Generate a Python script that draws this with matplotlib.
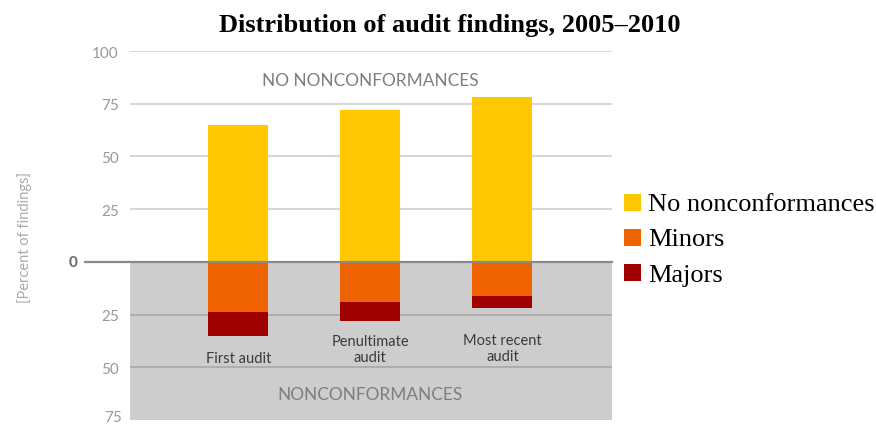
import matplotlib
matplotlib.use("Agg")
import matplotlib.pyplot as plt
from matplotlib.patches import Rectangle
from matplotlib.transforms import blended_transform_factory, offset_copy
import numpy as np

# Audit categories and the share of findings (percent) per outcome
categories = ["First audit", "Penultimate\naudit", "Most recent\naudit"]
no_nonconformances = [65, 72, 78]
minors = [24, 19, 16]
majors = [11, 9, 6]

series_names = ["No nonconformances", "Minors", "Majors"]
colors = ["#FFC800", "#EE6300", "#A00000"]

tick_values = [100, 75, 50, 25, 0, -25, -50, -75]
tick_labels = ["100", "75", "50", "25", "0", "25", "50", "75"]

sans = ["Lato", "DejaVu Sans"]
serif = ["Liberation Serif", "DejaVu Serif"]

fig = plt.figure(figsize=(8.76, 4.27), dpi=100)
ax = fig.add_axes([130 / 876, 1 - 421 / 427, (612 - 130) / 876, (421 - 52) / 427])

x = np.arange(len(categories))
ax.set_xlim(-0.82, 2.83)
ax.set_ylim(-75, 100)

# Shaded nonconformance zone below zero
ax.axhspan(-75, 0, color="#CDCDCD", zorder=0, lw=0)

# Gridlines
for v in [100, 75, 50, 25]:
    ax.axhline(v, color="#D6D6D6", lw=1.4, zorder=1)
for v in [-25, -50]:
    ax.axhline(v, color="#A8A8A8", lw=1.2, zorder=1)
trans = blended_transform_factory(ax.transAxes, ax.transData)
ax.plot([-0.093, 1.0], [0, 0], color="#8A8A8A", lw=1.6, transform=trans,
        clip_on=False, zorder=4)

width = 0.455
neg_minor = -np.array(minors)
neg_major = -np.array(majors)
ax.bar(x, no_nonconformances, width, color=colors[0], zorder=3)
ax.bar(x, neg_minor, width, color=colors[1], zorder=3)
ax.bar(x, neg_major, width, bottom=neg_minor, color=colors[2], zorder=3)

# Category labels under the bars
label_y = [-45.8, -41.3, -40.8]
for xi, lab, yy in zip(x, categories, label_y):
    ax.text(xi, yy, lab, ha="center", va="center", fontsize=10.5,
            family=sans, color="#3A3A3A", linespacing=1.25, zorder=5)

# Zone captions
ax.text(1.0, 86.3, "NO NONCONFORMANCES", ha="center", va="center",
        fontsize=12.4, family=sans, color="#7E7E7E")
ax.text(1.0, -62.7, "NONCONFORMANCES", ha="center", va="center",
        fontsize=12.4, family=sans, color="#7E7E7E")

# Axis ticks (zero and the lowest value are drawn separately)
ax.set_xticks([])
ax.set_yticks(tick_values)
ax.set_yticklabels([("" if v in (0, -75) else t) for v, t in zip(tick_values, tick_labels)],
                   family=sans, fontsize=11, color="#999999")
ax.tick_params(axis="y", length=0, pad=8)
zero_idx = tick_values.index(0)
ax.text(-0.108, 0, tick_labels[zero_idx], transform=trans, ha="right", va="center",
        fontsize=11, family=sans, fontweight="bold", color="#666666")
low_idx = tick_values.index(-75)
ax.text(-8 / 482, tick_values[low_idx], tick_labels[low_idx],
        transform=offset_copy(trans, fig=fig, x=0, y=2, units="points"),
        ha="right", va="center", fontsize=11, family=sans, color="#999999")
for s in ax.spines.values():
    s.set_visible(False)

fig.text(25 / 876, 1 - 238 / 427, "[Percent of findings]", rotation=90,
         ha="center", va="center", fontsize=10.5, family=sans, color="#AAAAAA")

# Title
fig.text(450 / 876, 1 - 32 / 427, "Distribution of audit findings, 2005\u20132010",
         ha="center", va="baseline", fontsize=19, fontweight="bold", family=serif)

# Legend
sq = 17
for i, (name, c) in enumerate(zip(series_names, colors)):
    bottom_px = [211.5, 246.5, 282][i]
    y0 = 1 - bottom_px / 427
    fig.add_artist(Rectangle((624 / 876, y0), sq / 876, sq / 427,
                             transform=fig.transFigure, color=c, lw=0))
    fig.text(648 / 876, y0, name, ha="left", va="baseline", fontsize=19,
             family=serif, color="black")

fig.savefig("out.png", dpi=100)
